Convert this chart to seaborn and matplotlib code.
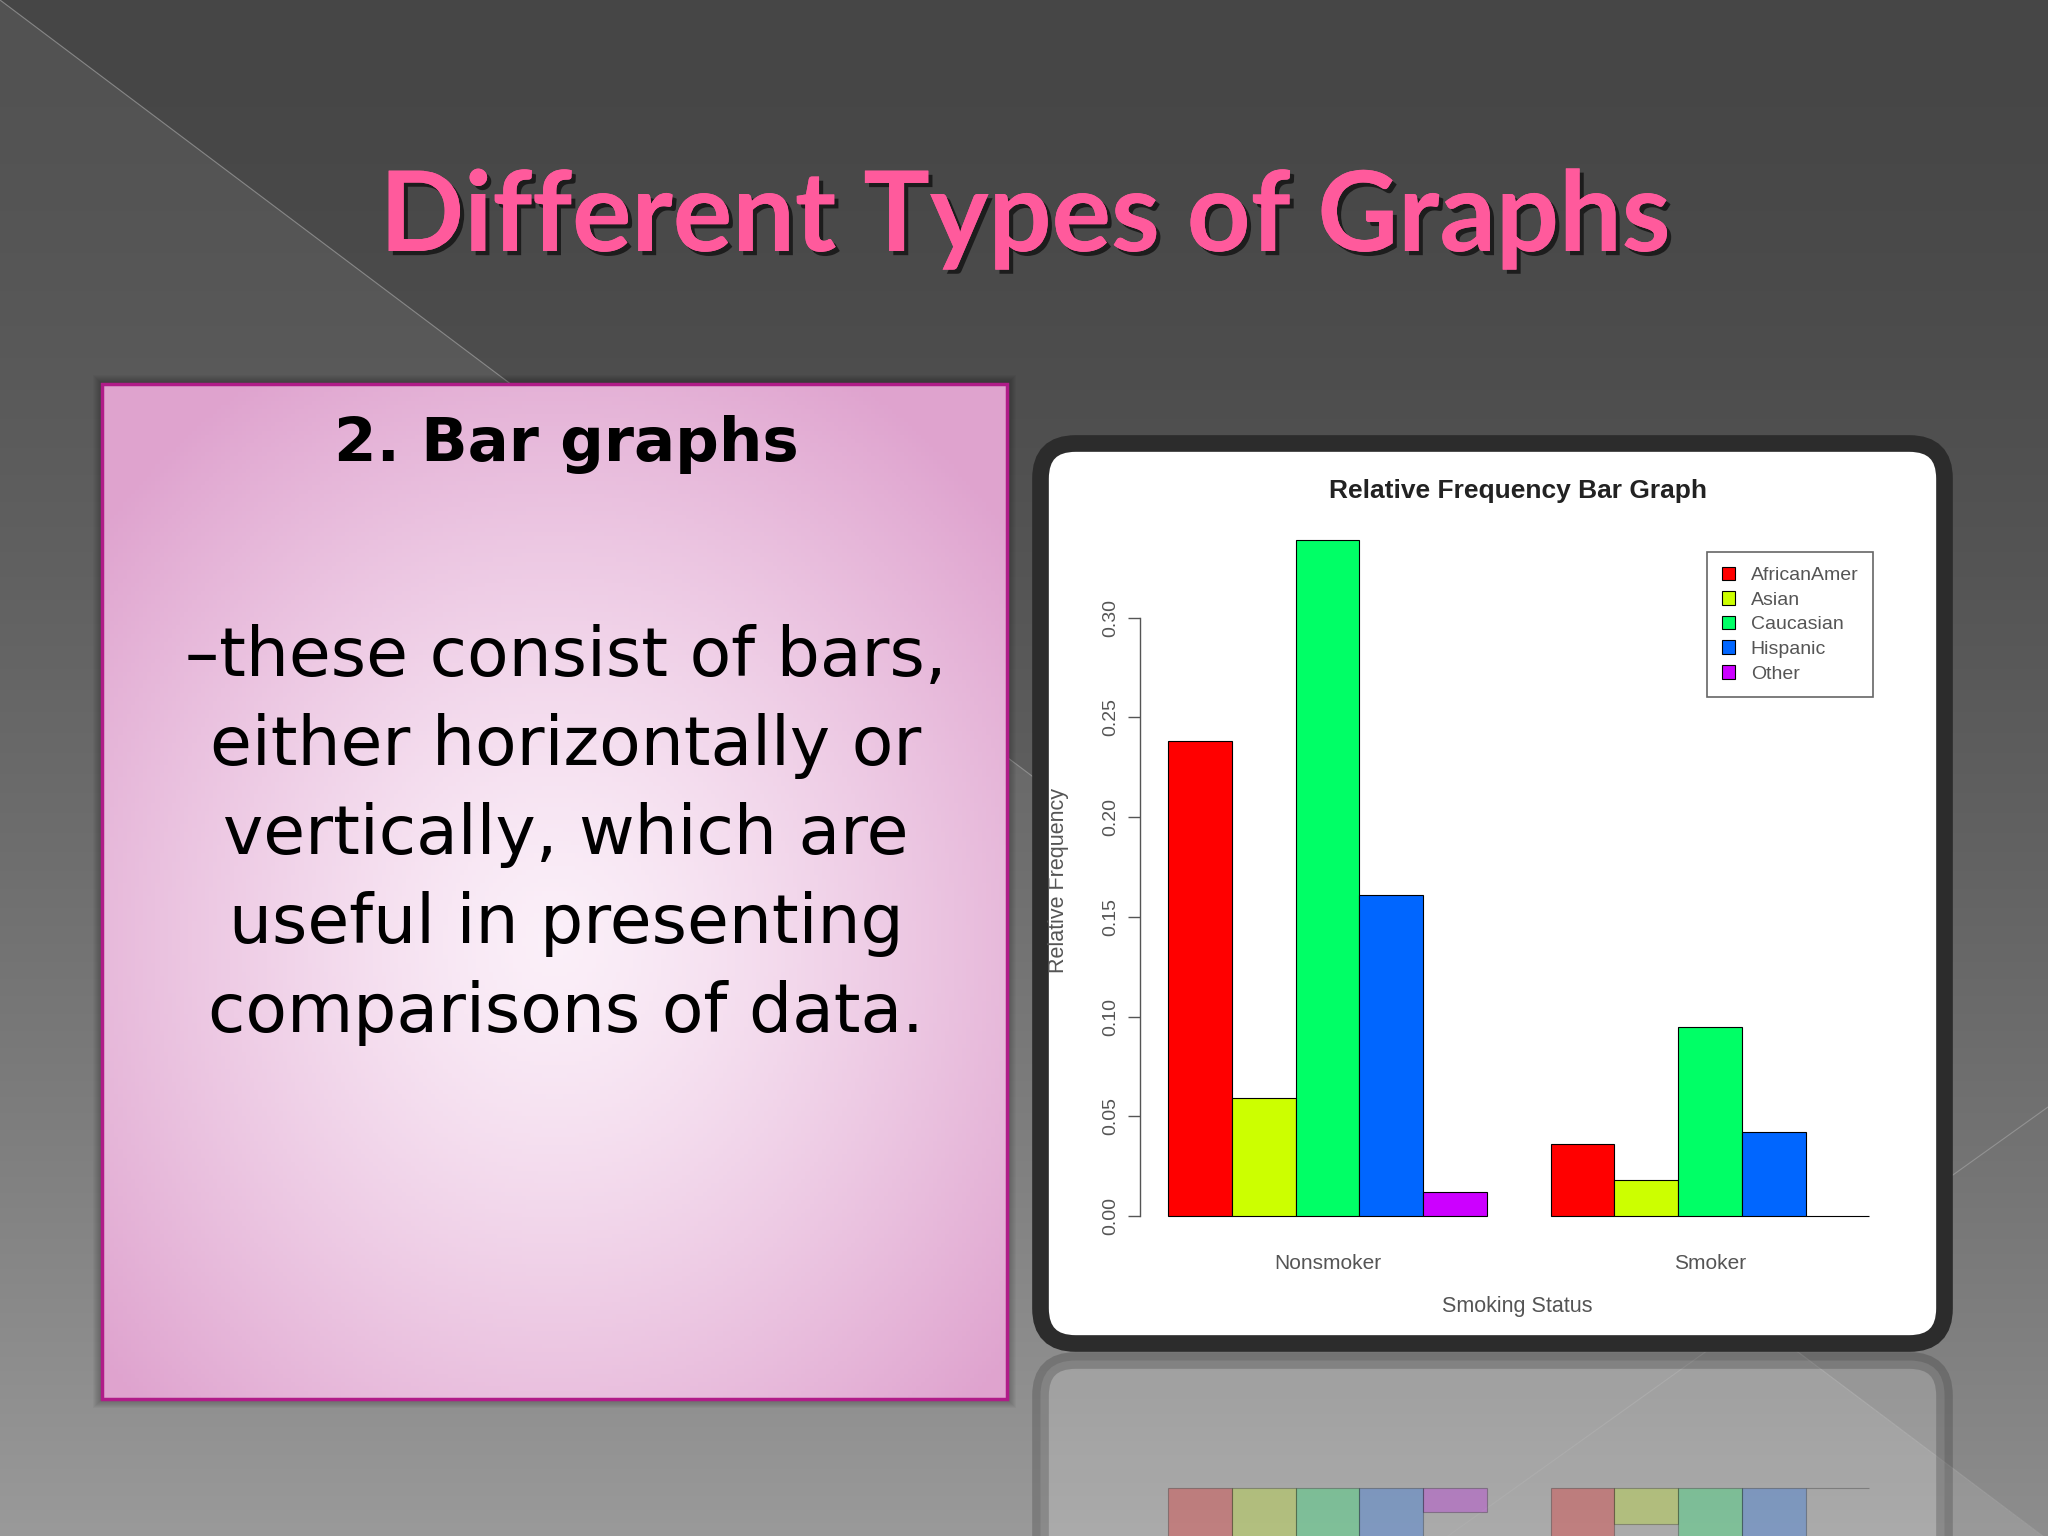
import numpy as np
import pandas as pd
import seaborn as sns
import matplotlib.pyplot as plt
import matplotlib.patheffects as pe
from matplotlib.patches import Rectangle, FancyBboxPatch

# --- data ---
status = ["Nonsmoker", "Smoker"]
races = ["AfricanAmer", "Asian", "Caucasian", "Hispanic", "Other"]
nonsmoker_freq = [0.238, 0.059, 0.339, 0.161, 0.012]
smoker_freq = [0.036, 0.018, 0.095, 0.042, 0.0]
race_colors = ["#FF0000", "#CCFF00", "#00FF66", "#0066FF", "#CC00FF"]
y_ticks = [0.00, 0.05, 0.10, 0.15, 0.20, 0.25, 0.30]

slide_title = "Different Types of Graphs"
box_heading = "2. Bar graphs"
body_lines = [
    "–these consist of bars,",
    "either horizontally or",
    "vertically, which are",
    "useful in presenting",
    "comparisons of data.",
]

W, H = 2048, 1536

df = pd.DataFrame({
    "status": np.repeat(status, len(races)),
    "race": races * len(status),
    "freq": nonsmoker_freq + smoker_freq,
})

sns.set_theme(style="white")
plt.rcParams["font.family"] = ["Liberation Sans", "DejaVu Sans"]
title_font = ["Lato", "DejaVu Sans"]
box_font = ["DejaVu Sans"]
txt_grey = "#555555"


def fig_rect(x0, y0, x1, y1):
    # pixel box (origin top-left) -> figure fraction rect
    return [x0 / W, 1 - y1 / H, (x1 - x0) / W, (y1 - y0) / H]


fig = plt.figure(figsize=(W / 100, H / 100), dpi=100)

# background layer in pixel coordinates
bg = fig.add_axes([0, 0, 1, 1])
bg.set_xlim(0, W)
bg.set_ylim(H, 0)
bg.axis("off")

yy, xx = np.mgrid[0:H, 0:W].astype(np.float32)
shade = 70 + 72 * (yy / H) ** 1.6 + 12 * (yy > 0.752 * xx)
shade = np.clip(shade / 255, 0, 1)
bg.imshow(np.dstack([shade] * 3), extent=(0, W, H, 0), aspect="auto", zorder=0)
bg.plot([0, W], [0, 1540], color="#a0a0a0", lw=0.8, alpha=0.7, zorder=1)
bg.plot([W, 1448], [1107, 1536], color="#a0a0a0", lw=0.8, alpha=0.7, zorder=1)

# slide title
bg.text(1025, 219, slide_title, family=title_font, fontsize=80, fontweight="bold",
        color="#ff5a9c", ha="center", va="center", zorder=5,
        path_effects=[pe.withSimplePatchShadow(offset=(3, -3), shadow_rgbFace="black", alpha=0.6),
                      pe.Normal()])

# pink text box
bx0, by0, bx1, by1 = 102, 384, 1007, 1399
for i in range(1, 10):
    bg.add_patch(Rectangle((bx0 - i, by0 - i), bx1 - bx0 + 2 * i, by1 - by0 + 2 * i,
                           fc="black", ec="none", alpha=0.03, zorder=2))
gy, gx = np.mgrid[0:1:240j, 0:1:220j]
r = np.clip(np.sqrt(((gx - 0.5) / 0.65) ** 2 + ((gy - 0.55) / 0.65) ** 2), 0, 1) ** 1.3
centre = np.array([0.985, 0.94, 0.975])
edge = np.array([0.875, 0.64, 0.81])
grad = centre * (1 - r[..., None]) + edge * r[..., None]
bg.imshow(grad, extent=(bx0, bx1, by1, by0), aspect="auto", zorder=3)
bg.add_patch(Rectangle((bx0, by0), bx1 - bx0, by1 - by0, fill=False, ec="#b01c88", lw=2.5, zorder=4))

bg.text(566, 444, box_heading, family=box_font, fontsize=44, fontweight="bold",
        color="black", ha="center", va="center", zorder=5)
for i, line in enumerate(body_lines):
    bg.text(566, 657 + 89 * i, line, family=box_font, fontsize=49,
            color="black", ha="center", va="center", zorder=5)

# chart panel and its reflection
bg.add_patch(FancyBboxPatch((1040.5, 443.5), 904, 900, boxstyle="round,pad=0,rounding_size=35",
                            fc="white", ec="#2c2c2c", lw=12, zorder=3))
bg.add_patch(FancyBboxPatch((1040.5, 1360.5), 904, 900, boxstyle="round,pad=0,rounding_size=35",
                            fc=(1, 1, 1, 0.17), ec=(0.17, 0.17, 0.17, 0.25), lw=12, zorder=3))

# the bar chart
ax = fig.add_axes(fig_rect(1140, 525, 1900, 1236))
ax.patch.set_alpha(0)
sns.barplot(data=df, x="status", y="freq", hue="race", order=status, hue_order=races,
            palette=race_colors, saturation=1, width=5 / 6, errorbar=None,
            edgecolor="black", linewidth=0.8, ax=ax)
ax.set_xlim(-0.4906, 1.497)
ax.set_ylim(-0.01, 0.3464)
sns.despine(ax=ax, bottom=True)
ax.spines["left"].set_bounds(0, 0.30)
ax.spines["left"].set_color(txt_grey)
ax.spines["left"].set_linewidth(1)
ax.set_yticks(y_ticks)
ax.set_yticklabels([f"{v:.2f}" for v in y_ticks], rotation=90, va="center")
ax.tick_params(axis="y", left=True, length=8.6, width=1, color=txt_grey,
               labelsize=14, labelcolor=txt_grey, pad=6)
ax.tick_params(axis="x", bottom=False, labelsize=15, labelcolor=txt_grey, pad=7)
ax.set_ylabel("Relative Frequency", fontsize=15.5, color=txt_grey)
ax.yaxis.set_label_coords(-0.094, 0.5)
ax.set_xlabel("Smoking Status", fontsize=15.5, color=txt_grey)
ax.xaxis.set_label_coords(0.497, -0.085)

fig.text(1518 / W, 1 - 491 / H, "Relative Frequency Bar Graph", fontsize=19,
         fontweight="bold", color="#222222", ha="center", va="center")

old = ax.get_legend()
handles = old.legend_handles
labels = [t.get_text() for t in old.get_texts()]
for h in handles:
    h.set_edgecolor("black")
    h.set_linewidth(0.8)
leg = ax.legend(handles, labels, loc="upper left", bbox_to_anchor=(1707 / W, 1 - 552 / H),
                bbox_transform=fig.transFigure, frameon=True, fancybox=False,
                edgecolor="#666666", framealpha=1, fontsize=14, handlelength=0.7,
                handleheight=0.7, handletextpad=0.8, labelspacing=0.36, borderpad=0.75,
                borderaxespad=0)
leg.get_frame().set_linewidth(1.2)
for t in leg.get_texts():
    t.set_color(txt_grey)

# faded mirror image of the bars under the panel
axr = fig.add_axes(fig_rect(1140, 1468, 1900, 2179))
axr.patch.set_alpha(0)
sns.barplot(data=df, x="status", y="freq", hue="race", order=status, hue_order=races,
            palette=race_colors, saturation=1, width=5 / 6, errorbar=None,
            edgecolor="black", linewidth=0.8, alpha=0.25, legend=False, ax=axr)
axr.set_xlim(-0.4906, 1.497)
axr.set_ylim(0.3464, -0.01)
axr.axis("off")

fig.savefig("out.png", dpi=100)
